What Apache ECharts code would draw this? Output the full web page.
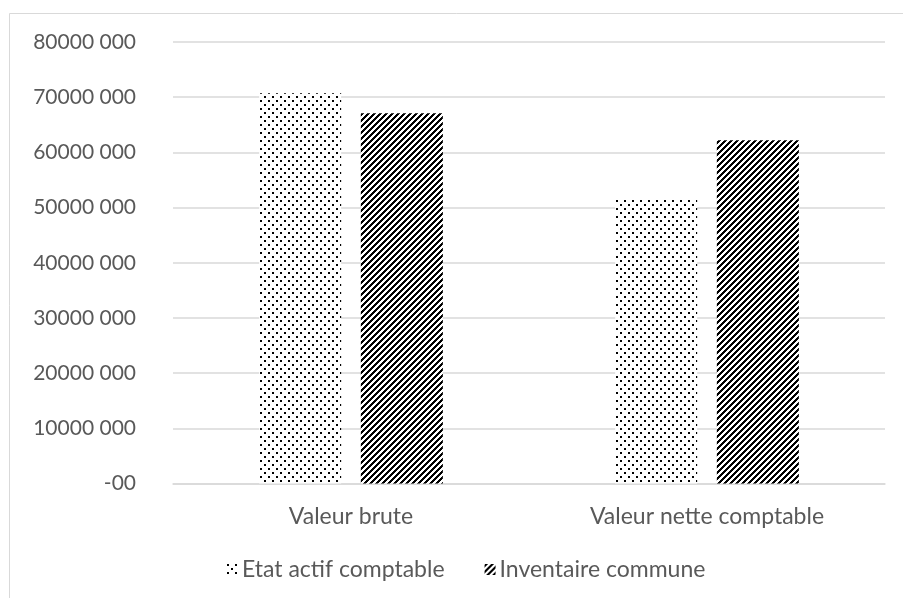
<!DOCTYPE html>
<html>
<head>
<meta charset="utf-8">
<script src="https://cdn.jsdelivr.net/npm/echarts@6/dist/echarts.min.js"></script>
<style>
html,body{margin:0;padding:0;background:#fff;}
#c{width:903px;height:598px;}
</style>
</head>
<body>
<div id="c"></div>
<script>
var categories = ['Valeur brute', 'Valeur nette comptable'];
var seriesNames = ['Etat actif comptable', 'Inventaire commune'];
var etatValues = [70700000, 51400000];
var inventaireValues = [67100000, 62200000];
var yTickLabels = ['-00', '10000 000', '20000 000', '30000 000', '40000 000', '50000 000', '60000 000', '70000 000', '80000 000'];

function dotPattern() {
  var c = document.createElement('canvas');
  c.width = 8; c.height = 8;
  var ctx = c.getContext('2d');
  ctx.fillStyle = '#fff'; ctx.fillRect(0, 0, 8, 8);
  ctx.fillStyle = '#000';
  ctx.fillRect(0, 0, 2, 2);
  ctx.fillRect(4, 4, 2, 2);
  return c;
}
function stripePattern() {
  var P = 6;
  var c = document.createElement('canvas');
  c.width = P; c.height = P;
  var ctx = c.getContext('2d');
  var img = ctx.createImageData(P, P);
  for (var y = 0; y < P; y++) {
    for (var x = 0; x < P; x++) {
      var black = ((x + y) % P) < P / 2;
      var i = (y * P + x) * 4;
      var v = black ? 0 : 255;
      img.data[i] = v; img.data[i + 1] = v; img.data[i + 2] = v; img.data[i + 3] = 255;
    }
  }
  ctx.putImageData(img, 0, 0);
  return c;
}

var chart = echarts.init(document.getElementById('c'), null, {renderer: 'canvas'});
var font = 'Lato';
chart.setOption({
  animation: false,
  backgroundColor: '#fff',
  textStyle: {fontFamily: font},
  graphic: [
    {type: 'line', shape: {x1: 9.5, y1: 13.5, x2: 903, y2: 13.5}, style: {stroke: '#d9d9d9', lineWidth: 1}},
    {type: 'line', shape: {x1: 9.5, y1: 13.5, x2: 9.5, y2: 598}, style: {stroke: '#d9d9d9', lineWidth: 1}}
  ],
  grid: {left: 173, right: 18, top: 42, bottom: 114.5, containLabel: false},
  legend: {
    bottom: 12,
    left: 222,
    itemWidth: 11,
    itemHeight: 11,
    itemGap: 40,
    textStyle: {color: '#595959', fontSize: 23, fontFamily: font, padding: [0, 0, 0, -1]},
    data: [
      {name: seriesNames[0], icon: 'rect'},
      {name: seriesNames[1], icon: 'rect'}
    ]
  },
  xAxis: {
    type: 'category',
    data: categories,
    axisLine: {show: true, lineStyle: {color: '#d9d9d9', width: 1.5}},
    axisTick: {show: false},
    axisLabel: {color: '#595959', fontSize: 23, fontFamily: font, margin: 22}
  },
  yAxis: {
    type: 'value',
    min: 0,
    max: 80000000,
    interval: 10000000,
    axisLine: {show: false},
    axisTick: {show: false},
    splitLine: {lineStyle: {color: '#d9d9d9', width: 1.5}},
    axisLabel: {
      color: '#595959', fontSize: 21, fontFamily: font, margin: 37,
      formatter: function (v) { return yTickLabels[Math.round(v / 10000000)]; }
    }
  },
  series: [
    {
      name: seriesNames[0], type: 'bar', data: etatValues,
      barWidth: 82, barGap: '24%',
      itemStyle: {color: {image: dotPattern(), repeat: 'repeat'}}
    },
    {
      name: seriesNames[1], type: 'bar', data: inventaireValues,
      barWidth: 82, barGap: '24%',
      itemStyle: {color: {image: stripePattern(), repeat: 'repeat'}}
    }
  ]
});
</script>
</body>
</html>
